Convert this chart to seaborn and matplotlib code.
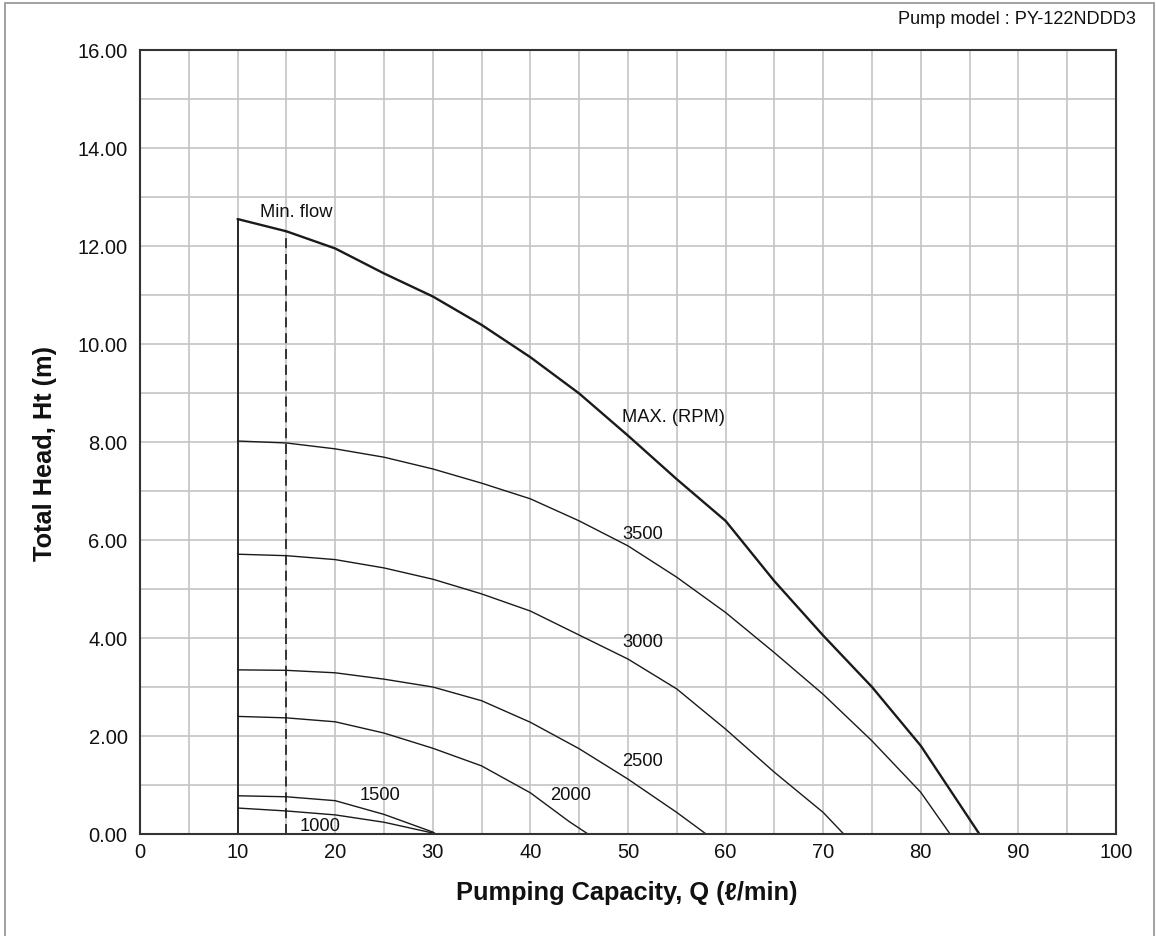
import matplotlib
matplotlib.use("Agg")
import matplotlib.pyplot as plt
import seaborn as sns
import pandas as pd
from matplotlib.ticker import MultipleLocator, FormatStrFormatter
from matplotlib.patches import Rectangle

# ---- data ----
q_max = [10, 15, 20, 25, 30, 35, 40, 45, 50, 55, 60, 65, 70, 75, 80, 85, 86]
h_max = [12.55, 12.3, 11.95, 11.44, 10.97, 10.39, 9.73, 8.99, 8.13, 7.24, 6.39, 5.16, 4.05, 3.0, 1.8, 0.3, 0.0]

q_3500 = [10, 15, 20, 25, 30, 35, 40, 45, 50, 55, 60, 65, 70, 75, 80, 83]
h_3500 = [8.02, 7.98, 7.86, 7.69, 7.45, 7.16, 6.84, 6.39, 5.88, 5.24, 4.52, 3.7, 2.85, 1.9, 0.85, 0.0]

q_3000 = [10, 15, 20, 25, 30, 35, 40, 45, 50, 55, 60, 65, 70, 72.1]
h_3000 = [5.71, 5.68, 5.6, 5.43, 5.2, 4.9, 4.55, 4.06, 3.57, 2.96, 2.14, 1.26, 0.44, 0.0]

q_2500 = [10, 15, 20, 25, 30, 35, 40, 45, 50, 55, 58]
h_2500 = [3.35, 3.34, 3.29, 3.16, 3.0, 2.72, 2.28, 1.74, 1.12, 0.44, 0.0]

q_2000 = [10, 15, 20, 25, 30, 35, 40, 44, 45.9]
h_2000 = [2.4, 2.37, 2.29, 2.06, 1.75, 1.39, 0.84, 0.25, 0.0]

q_1500 = [10, 15, 20, 25, 30, 30.3]
h_1500 = [0.78, 0.76, 0.68, 0.4, 0.04, 0.0]

q_1000 = [10, 15, 20, 25, 30, 30.3]
h_1000 = [0.53, 0.47, 0.39, 0.24, 0.02, 0.0]

curve_names = ["MAX. (RPM)", "3500", "3000", "2500", "2000", "1500", "1000"]
label_q = [49.4, 49.4, 49.4, 49.4, 42.0, 22.5, 16.4]
label_h = [8.53, 6.14, 3.93, 1.50, 0.81, 0.80, 0.17]

min_flow_q = 15
x_ticks = list(range(0, 101, 10))
y_ticks = [0, 2, 4, 6, 8, 10, 12, 14, 16]

model_text = "Pump model : PY-122NDDD3"
xlabel = "Pumping Capacity, Q (\u2113/min)"
ylabel = "Total Head, Ht (m)"

# ---- build long-form table ----
series = [(q_max, h_max), (q_3500, h_3500), (q_3000, h_3000), (q_2500, h_2500),
          (q_2000, h_2000), (q_1500, h_1500), (q_1000, h_1000)]
frames = []
for name, (q, h) in zip(curve_names, series):
    frames.append(pd.DataFrame({"Q": q, "H": h, "curve": name}))
df = pd.concat(frames, ignore_index=True)

sns.set_theme(style="white")
plt.rcParams["font.family"] = ["Liberation Sans", "DejaVu Sans"]

fig = plt.figure(figsize=(11.56, 9.37), dpi=100)
ax = fig.add_axes([140 / 1156, 1 - 835 / 937, 976 / 1156, 784 / 937])

# outer border of the sheet
fig.patches.append(Rectangle((5 / 1156, -0.02), 1149 / 1156, 1.02 - 4 / 937,
                             transform=fig.transFigure, fill=False,
                             edgecolor="#9a9a9a", linewidth=1.3, clip_on=False))

for name in curve_names:
    sub = df[df["curve"] == name]
    lw = 1.7 if name.startswith("MAX") else 1.0
    sns.lineplot(data=sub, x="Q", y="H", ax=ax, color="#1a1a1a", linewidth=lw,
                 sort=False, estimator=None, legend=False)

# left boundary (10 l/min) and min-flow dashed line
ax.vlines(q_max[0], 0, h_max[0], color="#1a1a1a", linewidth=1.3)
ax.vlines(min_flow_q, 0, h_max[q_max.index(min_flow_q)], color="#1a1a1a",
          linewidth=1.2, linestyles=(0, (6, 3.5)))

for name, lq, lh in zip(curve_names, label_q, label_h):
    ax.text(lq, lh, name, fontsize=13.2, ha="left", va="center", color="#111111")
ax.text(12.3, 12.71, "Min. flow", fontsize=13.2, ha="left", va="center", color="#111111")

ax.set_xlim(0, 100)
ax.set_ylim(0, 16)
ax.xaxis.set_minor_locator(MultipleLocator(5))
ax.yaxis.set_minor_locator(MultipleLocator(1))
ax.set_xticks(x_ticks)
ax.set_yticks(y_ticks)
ax.yaxis.set_major_formatter(FormatStrFormatter("%.2f"))
ax.grid(True, which="both", color="#c4c4c4", linewidth=1.2)
ax.set_axisbelow(True)
ax.tick_params(axis="both", which="both", direction="out", length=3, width=1,
               color="#444444", labelsize=14.5, labelcolor="#111111", pad=6)
ax.tick_params(axis="x", which="both", length=0, pad=6)
for sp in ax.spines.values():
    sp.set_visible(True)
    sp.set_color("#333333")
    sp.set_linewidth(1.5)

ax.set_xlabel(xlabel, fontsize=18.3, fontweight="bold", color="#111111")
ax.set_ylabel(ylabel, fontsize=18.3, fontweight="bold", color="#111111")
ax.xaxis.label.set_va("center")
ax.yaxis.label.set_va("center")
ax.xaxis.set_label_coords(0.499, -0.074)
ax.yaxis.set_label_coords(-0.0973, 0.487)

fig.text(1136 / 1156, 1 - 20 / 937, model_text, fontsize=13.1, ha="right",
         va="center", color="#111111")

fig.savefig("out.png", dpi=100, facecolor="white")
